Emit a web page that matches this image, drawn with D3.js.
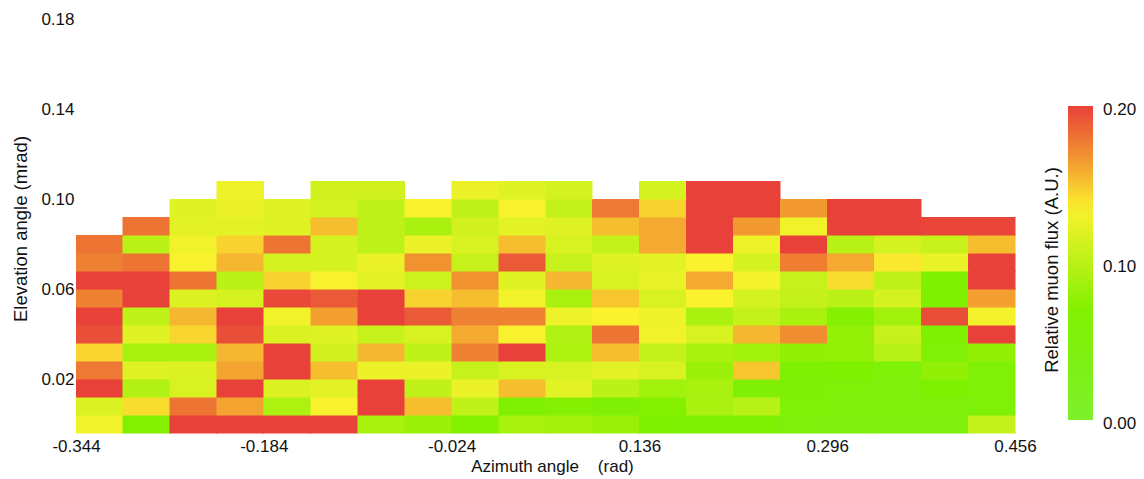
<!DOCTYPE html>
<html>
<head>
<meta charset="utf-8">
<script src="https://cdn.jsdelivr.net/npm/d3@7"></script>
<style>
  body { margin: 0; background: #fff; }
  text { font-family: "Liberation Sans", Arial, sans-serif; fill: #111; }
</style>
</head>
<body>
<div id="chart"></div>
<script>
var width = 1144,
    height = 479;

// bin centres (rad)
var azimuth = [-0.324, -0.284, -0.244, -0.204, -0.164, -0.124, -0.084, -0.044, -0.004, 0.036,
               0.076, 0.116, 0.156, 0.196, 0.236, 0.276, 0.316, 0.356, 0.396, 0.436];
var elevation = [0, 0.008, 0.016, 0.024, 0.032, 0.040, 0.048, 0.056, 0.064, 0.072, 0.080, 0.088, 0.096, 0.104];
var azBin = 0.04,
    elBin = 0.008;

// relative muon flux, one row per elevation bin (bottom to top), null = no data
var flux = [
  [0.130, 0.070, 0.200, 0.200, 0.200, 0.200, 0.090, 0.083, 0.070, 0.090, 0.088, 0.083, 0.068, 0.065, 0.065, 0.050, 0.048, 0.048, 0.048, 0.105],
  [0.117, 0.142, 0.180, 0.162, 0.093, 0.133, 0.200, 0.153, 0.103, 0.065, 0.072, 0.060, 0.070, 0.092, 0.098, 0.058, 0.050, 0.050, 0.052, 0.055],
  [0.200, 0.095, 0.116, 0.200, 0.118, 0.122, 0.200, 0.103, 0.127, 0.153, 0.122, 0.100, 0.086, 0.090, 0.060, 0.060, 0.055, 0.050, 0.068, 0.058],
  [0.178, 0.120, 0.118, 0.162, 0.200, 0.153, 0.127, 0.127, 0.107, 0.116, 0.116, 0.122, 0.116, 0.083, 0.150, 0.063, 0.068, 0.055, 0.078, 0.058],
  [0.145, 0.090, 0.092, 0.155, 0.200, 0.112, 0.155, 0.103, 0.175, 0.200, 0.093, 0.153, 0.105, 0.092, 0.087, 0.078, 0.080, 0.098, 0.058, 0.078],
  [0.195, 0.120, 0.145, 0.195, 0.118, 0.120, 0.107, 0.116, 0.160, 0.133, 0.095, 0.180, 0.130, 0.116, 0.155, 0.170, 0.080, 0.107, 0.065, 0.200],
  [0.200, 0.103, 0.155, 0.200, 0.130, 0.163, 0.200, 0.190, 0.175, 0.175, 0.128, 0.134, 0.128, 0.092, 0.105, 0.092, 0.072, 0.087, 0.195, 0.131],
  [0.175, 0.200, 0.118, 0.115, 0.197, 0.190, 0.200, 0.146, 0.153, 0.130, 0.092, 0.150, 0.116, 0.135, 0.114, 0.106, 0.100, 0.114, 0.068, 0.163],
  [0.200, 0.200, 0.180, 0.100, 0.146, 0.133, 0.122, 0.110, 0.168, 0.120, 0.155, 0.116, 0.125, 0.160, 0.131, 0.107, 0.142, 0.103, 0.068, 0.200],
  [0.175, 0.180, 0.133, 0.155, 0.114, 0.114, 0.127, 0.168, 0.107, 0.190, 0.107, 0.120, 0.122, 0.134, 0.114, 0.176, 0.160, 0.138, 0.126, 0.200],
  [0.180, 0.100, 0.130, 0.146, 0.180, 0.114, 0.102, 0.127, 0.116, 0.153, 0.116, 0.105, 0.160, 0.200, 0.128, 0.200, 0.098, 0.114, 0.107, 0.153],
  [null,  0.180, 0.122, 0.122, 0.120, 0.153, 0.102, 0.092, 0.112, 0.122, 0.120, 0.153, 0.160, 0.200, 0.165, 0.130, 0.200, 0.200, 0.198, 0.198],
  [null,  null,  0.120, 0.127, 0.120, 0.114, 0.103, 0.133, 0.103, 0.133, 0.105, 0.178, 0.146, 0.200, 0.200, 0.165, 0.200, 0.200, null,  null ],
  [null,  null,  null,  0.128, null,  0.112, 0.112, null,  0.127, 0.120, 0.114, null,  0.114, 0.200, 0.200, null,  null,  null,  null,  null ]
];

var xTicks = [-0.344, -0.184, -0.024, 0.136, 0.296, 0.456];
var yTicks = [0.02, 0.06, 0.10, 0.14, 0.18];
var cbTicks = [0, 0.10, 0.20];

var svg = d3.select('#chart').append('svg')
    .attr('width', width)
    .attr('height', height);

var x = d3.scaleLinear()
    .domain([-0.344, 0.456])
    .range([76, 1015]);

var y = d3.scaleLinear()
    .domain([-0.004, 0.18])
    .range([433, 19]);

var color = d3.scaleLinear()
    .domain([0, 0.068, 0.135, 0.165, 0.2])
    .range(['#7ef02c', '#7ff000', '#fbf22e', '#f29a30', '#e8413a'])
    .clamp(true);

// plain hyphen for negatives, like the original
var locale = d3.formatLocale({decimal: '.', thousands: ',', grouping: [3], currency: ['', ''], minus: '-'});

// flatten the grid into cells
var cells = [];
flux.forEach(function(row, j) {
    row.forEach(function(v, i) {
        if (v !== null) cells.push({az: azimuth[i], el: elevation[j], value: v});
    });
});

svg.append('g')
    .attr('class', 'cells')
    .selectAll('rect')
    .data(cells)
    .enter().append('rect')
    .attr('x', function(d) { return x(d.az - azBin / 2); })
    .attr('y', function(d) { return y(d.el + elBin / 2); })
    .attr('width', function(d) { return x(d.az + azBin / 2) - x(d.az - azBin / 2); })
    .attr('height', function(d) { return y(d.el - elBin / 2) - y(d.el + elBin / 2); })
    .attr('fill', function(d) { return color(d.value); })
    .attr('stroke', function(d) { return color(d.value); })
    .attr('stroke-width', 0.5)
    .attr('shape-rendering', 'crispEdges');

// axes, labels only
var xAxis = svg.append('g')
    .attr('transform', 'translate(0,433)')
    .call(d3.axisBottom(x).tickValues(xTicks).tickSize(0).tickPadding(7).tickFormat(locale.format('.3f')));

var yAxis = svg.append('g')
    .attr('transform', 'translate(76,0)')
    .call(d3.axisLeft(y).tickValues(yTicks).tickSize(0).tickPadding(1.5).tickFormat(locale.format('.2f')));

[xAxis, yAxis].forEach(function(g) {
    g.select('.domain').remove();
    g.attr('font-family', null).attr('font-size', 17);
    g.selectAll('text').attr('fill', '#111');
});

svg.append('text')
    .attr('x', (x.range()[0] + x.range()[1]) / 2 + 7)
    .attr('y', 472)
    .attr('text-anchor', 'middle')
    .attr('font-size', 17)
    .style('white-space', 'pre')
    .text('Azimuth angle    (rad)');

svg.append('text')
    .attr('transform', 'translate(20,229) rotate(-90)')
    .attr('text-anchor', 'middle')
    .attr('dominant-baseline', 'central')
    .attr('font-size', 18.5)
    .text('Elevation angle (mrad)');

// colour bar
var cbY = d3.scaleLinear()
    .domain([0, 0.2])
    .range([420, 106]);

var grad = svg.append('defs').append('linearGradient')
    .attr('id', 'cbgrad')
    .attr('x1', 0).attr('y1', 1)
    .attr('x2', 0).attr('y2', 0);

grad.selectAll('stop')
    .data(d3.range(0, 21).map(function(k) { return k / 20; }))
    .enter().append('stop')
    .attr('offset', function(t) { return t; })
    .attr('stop-color', function(t) { return color(t * 0.2); });

svg.append('rect')
    .attr('x', 1068)
    .attr('y', cbY(0.2))
    .attr('width', 25)
    .attr('height', cbY(0) - cbY(0.2))
    .attr('fill', 'url(#cbgrad)');

var cbAxis = svg.append('g')
    .attr('transform', 'translate(1093,3.5)')
    .call(d3.axisRight(cbY).tickValues(cbTicks).tickSize(0).tickPadding(10).tickFormat(locale.format('.2f')));
cbAxis.select('.domain').remove();
cbAxis.attr('font-family', null).attr('font-size', 17);
cbAxis.selectAll('text').attr('fill', '#111');

svg.append('text')
    .attr('transform', 'translate(1051.5,270) rotate(-90)')
    .attr('text-anchor', 'middle')
    .attr('dominant-baseline', 'central')
    .attr('font-size', 18.5)
    .text('Relative muon flux (A.U.)');
</script>
</body>
</html>
